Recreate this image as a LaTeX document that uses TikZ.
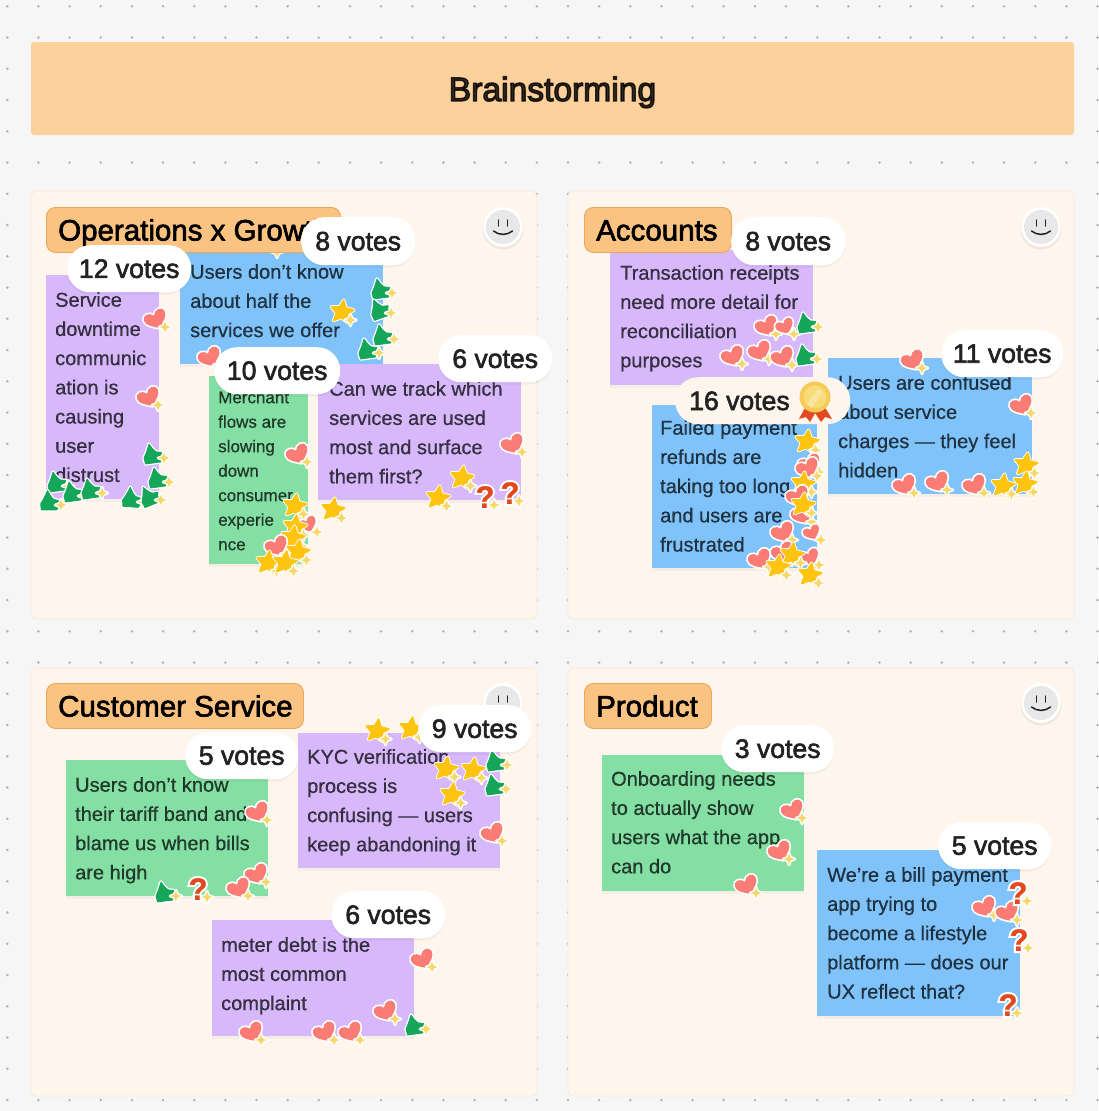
\documentclass[tikz,border=0pt]{standalone}
\usepackage{fontspec}
\setmainfont[FakeBold=0.5]{Liberation Sans}
\newfontfamily\medf[FakeBold=2.2]{Liberation Sans}
\newfontfamily\semif[FakeBold=2.2]{Liberation Sans}
\newfontfamily\titf[FakeBold=4]{Liberation Sans}
\newfontfamily\quf[BoldFeatures={FakeBold=1}]{Liberation Sans}
\newfontfamily\quh[BoldFeatures={FakeBold=14}]{Liberation Sans}
\definecolor{bgc}{HTML}{F6F6F6}
\definecolor{dotc}{HTML}{B4B4B4}
\definecolor{panelc}{HTML}{FEF6EC}
\definecolor{panelb}{HTML}{F6E9DA}
\definecolor{headc}{HTML}{FDD19B}
\definecolor{tagc}{HTML}{FBC381}
\definecolor{tagb}{HTML}{E9A75E}
\definecolor{purp}{HTML}{D6B8FB}
\definecolor{blu}{HTML}{80C3FB}
\definecolor{grn}{HTML}{84DFA4}
\definecolor{hearc}{HTML}{FB7C74}
\definecolor{starc}{HTML}{FFC40F}
\definecolor{sparkc}{HTML}{F6D768}
\definecolor{thumc}{HTML}{16A659}
\definecolor{qc}{HTML}{E2491F}
\definecolor{inkc}{HTML}{222222}
\tikzset{
  x=1pt,y=-1pt,
  panelbox/.style={fill=panelc,draw=panelb,line width=0.8pt,rounded corners=5pt},
  tagbox/.style={fill=tagc,draw=tagb,line width=0.9pt,rounded corners=9pt},
  notebox/.style={inner sep=0pt,outer sep=0pt},
  notetext/.style={inner sep=0pt,anchor=north west,align=left,text=black,text opacity=0.72},
  tagtext/.style={inner sep=0pt,anchor=base west,text=black,font=\medf\fontsize{29.5}{32}\selectfont},
  pill/.style={inner sep=0pt,rounded corners=23pt,text=inkc,font=\semif\fontsize{26.6}{28}\selectfont},
  halo/.style={draw=white,fill=white,line width=3.4pt,line join=round}
}
\def\heartpath{(0,9.5) .. controls (-6,5) and (-13,1) .. (-12,-5) .. controls (-11,-11) and (-3,-11) .. (0,-5) .. controls (3,-11.5) and (12,-11) .. (12.5,-5) .. controls (13,1) and (6,5) .. (0,9.5) -- cycle}
\def\starpath{(0,-12) -- (3.4,-4.6) -- (11.4,-3.7) -- (5.5,1.8) -- (7.1,9.7) -- (0,5.7) -- (-7.1,9.7) -- (-5.5,1.8) -- (-11.4,-3.7) -- (-3.4,-4.6) -- cycle}
\def\sparkpath{(0,-5.8) .. controls (1,-1.6) and (1.6,-1) .. (5.8,0) .. controls (1.6,1) and (1,1.6) .. (0,5.8) .. controls (-1,1.6) and (-1.6,1) .. (-5.8,0) .. controls (-1.6,-1) and (-1,-1.6) .. (0,-5.8) -- cycle}
\def\thumbpath{(-4,-11) .. controls (-1,-7) and (0.5,-4.5) .. (3,-3.2) -- (9,-2.5) -- (7.5,1) -- (10,3) -- (7.5,7) -- (-7.5,9) -- (-9,3) -- (-6.5,-3) -- cycle}
\newcommand{\spk}[2]{\begin{scope}[shift={(#1,#2)}]
  \path[halo,line width=3pt] \sparkpath;
  \fill[sparkc] \sparkpath;
\end{scope}}
\newcommand{\hrt}[3][1]{\begin{scope}[shift={(#2,#3)},rotate=25,scale=#1*0.93]
  \path[halo] \heartpath;
  \fill[hearc] \heartpath;
\end{scope}\spk{#2+9}{#3+7}}
\newcommand{\strk}[3][1]{\begin{scope}[shift={(#2,#3)},rotate=-8,scale=#1]
  \path[halo] \starpath;
  \fill[starc,draw=starc,line width=1.6pt,line join=round] \starpath;
\end{scope}\spk{#2+8.5}{#3+8}}
\newcommand{\thm}[3][0]{\begin{scope}[shift={(#2,#3)},rotate=#1]
  \path[halo] \thumbpath;
  \fill[thumc,draw=thumc,line width=0.8pt,line join=round] \thumbpath;
\end{scope}\spk{#2+11}{#3+3}}
\newcommand{\qmk}[2]{%
  \node[inner sep=0pt,text=white,font=\quh\bfseries\fontsize{31}{32}\selectfont] (qh-#1-#2) at (#1,#2) {?};
  \node[inner sep=0pt,text=qc,font=\quf\bfseries\fontsize{31}{32}\selectfont] (q-#1-#2) at (#1,#2) {?};
  \spk{#1+9}{#2+8}}
\newcommand{\sticky}[6]{%
  \fill[black,opacity=0.03] (#2,#3+2) rectangle (#4,#5+3);
  \node[notebox,fill=#6,minimum width=#4pt-#2pt,minimum height=#5pt-#3pt,anchor=north west] (#1) at (#2,#3) {};}
\newcommand{\ntext}[6]{\node[notetext,font=\fontsize{#4}{#5}\selectfont] (#1) at (#2,#3-8) {\rule{0pt}{14pt}#6};}
\newcommand{\bub}[7]{%
  \fill[black,opacity=0.04,rounded corners=23pt] (#2,#3+1.5) rectangle (#4,#5+2.5);
  \node[pill,fill=#6,minimum width=#4pt-#2pt,minimum height=#5pt-#3pt,anchor=north west] (#1) at (#2,#3) {#7};}
\newcommand{\smly}[3]{%
  \fill[black,opacity=0.06] (#2,#3+2) circle (20.5);
  \node[circle,minimum size=37pt,inner sep=0pt,fill=gray!18,draw=white,line width=2.6pt] (#1) at (#2,#3) {};
  \draw[inkc,line width=1.5pt,line cap=round] (#2-4.5,#3-7) -- (#2-4.5,#3-1) (#2+4.5,#3-7) -- (#2+4.5,#3-1);
  \draw[inkc,line width=1.5pt,line cap=round] (#2-9.5,#3+4) .. controls (#2-4,#3+8.5) and (#2+4,#3+8.5) .. (#2+9.5,#3+4);}
\begin{document}
\begin{tikzpicture}
\useasboundingbox (0,0) rectangle (1098,1111);
\fill[bgc] (0,0) rectangle (1098,1111);
\foreach \i in {0,...,35} \foreach \j in {0,...,35}
  \fill[dotc] ({7.3+31.15*\i},{6.3+31.25*\j}) circle (1.4);
% header
\node[notebox,fill=headc,rounded corners=3pt,minimum width=1043pt,minimum height=93pt,anchor=north west] (head) at (31,42) {};
\node[inner sep=0pt,anchor=base,text=black,text opacity=0.8,font=\titf\fontsize{33.6}{36}\selectfont] (headt) at (552.5,101) {Brainstorming};
% panels
\draw[panelbox] (31,191) rectangle (537,619);
\draw[panelbox] (568,191) rectangle (1074,619);
\draw[panelbox] (31,668) rectangle (537,1096);
\draw[panelbox] (568,668) rectangle (1074,1096);
\smly{s1}{503}{227}
\smly{s2}{1041}{227}
\smly{s3}{503}{703}
\smly{s4}{1041}{703}
% === panel 1 ===
\sticky{n1b}{180}{244}{383}{364}{blu}
\ntext{t1b}{190}{272}{20}{29.2}{Users don't know\\about half the\\services we offer}
\spk{277}{252}
\node[tagbox,minimum width=294pt,minimum height=45pt,anchor=north west] (tag1) at (46,207) {};
\node[tagtext] (tag1t) at (58,240.5) {Operations x Growth};
\sticky{n1a}{46}{275}{159}{499}{purp}
\ntext{t1a}{55}{300}{20}{29.2}{Service\\downtime\\communic\\ation is\\causing\\user\\distrust}
\sticky{n1c}{209}{376}{308}{564}{grn}
\ntext{t1c}{218}{397}{17}{24.5}{Merchant\\flows are\\slowing\\down\\consumer\\experie\\nce}
\sticky{n1d}{318}{364}{521}{500}{purp}
\ntext{t1d}{329}{389}{20}{29.2}{Can we track which\\services are used\\most and surface\\them first?}
\hrt{156}{320}
\hrt{149}{398}
\hrt{210}{358}
\hrt{298}{455}
\hrt{513}{445}
\thm{153}{455}
\thm{158}{479}
\thm{57}{483}
\thm{73}{493}
\thm{91}{490}
\thm[-8]{50}{502}
\thm[-12]{132}{499}
\thm[15]{150}{497}
\thm{381}{290}
\thm[12]{380}{310}
\thm{383}{336}
\thm{368}{350}
\strk{342}{312}
\strk{295}{506}
\strk{333}{510}
\strk{438}{498}
\strk{462}{478}
\qmk{485}{497}
\qmk{510}{493}
\hrt[0.8]{308}{525}
\strk{295}{527}
\strk{293}{538}
\hrt{277}{547}
\strk{298}{552}
\strk{268}{563}
\strk{285}{563}
% === panel 2 ===
\sticky{n2a}{610}{250}{813}{385}{purp}
\ntext{t2a}{620}{273}{20}{29.2}{Transaction receipts\\need more detail for\\reconciliation\\purposes}
\node[tagbox,minimum width=147pt,minimum height=45pt,anchor=north west] (tag2) at (584,207) {};
\node[tagtext] (tag2t) at (596,240.5) {Accounts};
\sticky{n2b}{652}{405}{817}{568}{blu}
\ntext{t2b}{660}{428}{20}{29.2}{Failed payment\\refunds are\\taking too long\\and users are\\frustrated}
\sticky{n2c}{828}{358}{1032}{494}{blu}
\ntext{t2c}{838}{383}{20}{29.2}{Users are confused\\about service\\charges — they feel\\hidden}
\hrt{767}{327}
\hrt[0.8]{785}{327}
\hrt{733}{357}
\hrt{760}{352}
\hrt{783}{358}
\thm{807}{324}
\thm{806}{356}
\hrt{913}{361}
\hrt{1022}{406}
\hrt{905}{486}
\hrt{938}{483}
\hrt{975}{486}
\strk{1003}{486}
\strk{1026}{465}
\strk{1025}{484}
\strk{807}{442}
\hrt{810}{465}
\hrt{808}{469}
\strk{803}{484}
\hrt{798}{497}
\hrt{803}{515}
\hrt[0.75]{812}{533}
\hrt{783}{533}
\strk{803}{505}
\hrt{783}{553}
\hrt[0.85]{810}{558}
\hrt{760}{560}
\strk{792}{555}
\strk{778}{567}
\strk{810}{575}
% === panel 3 ===
\sticky{n3a}{66}{760}{268}{896}{grn}
\ntext{t3a}{75}{785}{20}{29.2}{Users don't know\\their tariff band and\\blame us when bills\\are high}
\sticky{n3b}{298}{733}{500}{868}{purp}
\ntext{t3b}{307}{757}{20}{29.2}{KYC verification\\process is\\confusing — users\\keep abandoning it}
\sticky{n3c}{212}{920}{414}{1036}{purp}
\ntext{t3c}{221}{945}{20}{29.2}{meter debt is the\\most common\\complaint}
\node[tagbox,minimum width=257pt,minimum height=45pt,anchor=north west] (tag3) at (46,683) {};
\node[tagtext] (tag3t) at (58,716.5) {Customer Service};
\strk{377}{731}
\strk{411}{729}
\strk{446}{769}
\strk{473}{770}
\strk{452}{795}
\thm{496}{762}
\thm{495}{786}
\hrt{493}{834}
\hrt{258}{813}
\hrt{257}{875}
\hrt{239}{889}
\thm{165}{893}
\qmk{198}{889}
\hrt{423}{960}
\hrt{386}{1012}
\hrt{252}{1033}
\hrt{325}{1033}
\hrt{351}{1033}
\thm{415}{1026}
% === panel 4 ===
\sticky{n4a}{602}{755}{804}{891}{grn}
\ntext{t4a}{611}{779}{20}{29.2}{Onboarding needs\\to actually show\\users what the app\\can do}
\sticky{n4b}{817}{850}{1020}{1016}{blu}
\ntext{t4b}{827}{875}{20}{29.2}{We're a bill payment\\app trying to\\become a lifestyle\\platform — does our\\UX reflect that?}
\node[tagbox,minimum width=127pt,minimum height=45pt,anchor=north west] (tag4) at (584,683) {};
\node[tagtext] (tag4t) at (596,716.5) {Product};
\hrt{793}{811}
\hrt{780}{852}
\hrt{747}{886}
\hrt{985}{908}
\hrt{1008}{913}
\qmk{1018}{893}
\qmk{1019}{940}
\qmk{1008}{1005}
% === vote pills ===
\bub{v1}{67}{245}{191}{292}{white}{12 votes}
\bub{v2}{301}{217}{415}{265}{white}{8 votes}
\bub{v3}{214}{347}{340}{394}{white}{10 votes}
\bub{v4}{438}{335}{552}{382}{white}{6 votes}
\bub{v5}{731}{217}{845}{265}{white}{8 votes}
\bub{v6}{941}{330}{1063}{377}{white}{11 votes}
\node[pill,fill=panelc,minimum width=175pt,minimum height=47pt,anchor=north west] (v7) at (675,377) {};
\node[inner sep=0pt,anchor=base west,text=inkc,font=\semif\fontsize{26.6}{28}\selectfont] (v7t) at (689,410) {16 votes};
% medal
\fill[qc] (806,406) -- (799,419) -- (806,417) -- (810,422) -- (817,410) -- cycle;
\fill[qc] (824,406) -- (832,419) -- (825,417) -- (821,422) -- (813,410) -- cycle;
\fill[sparkc!85!orange] (815,397) circle (15.5);
\fill[sparkc!90!white] (815,397) circle (11.5);
\fill[white,opacity=0.3] (807,404) -- (818,389) -- (823,393) -- (811,408) -- cycle;
\bub{v8}{185}{732}{298}{779}{white}{5 votes}
\bub{v9}{418}{705}{531}{752}{white}{9 votes}
\bub{v10}{331}{891}{445}{938}{white}{6 votes}
\bub{v11}{721}{725}{834}{772}{white}{3 votes}
\bub{v12}{938}{822}{1051}{869}{white}{5 votes}
\end{tikzpicture}
\end{document}
